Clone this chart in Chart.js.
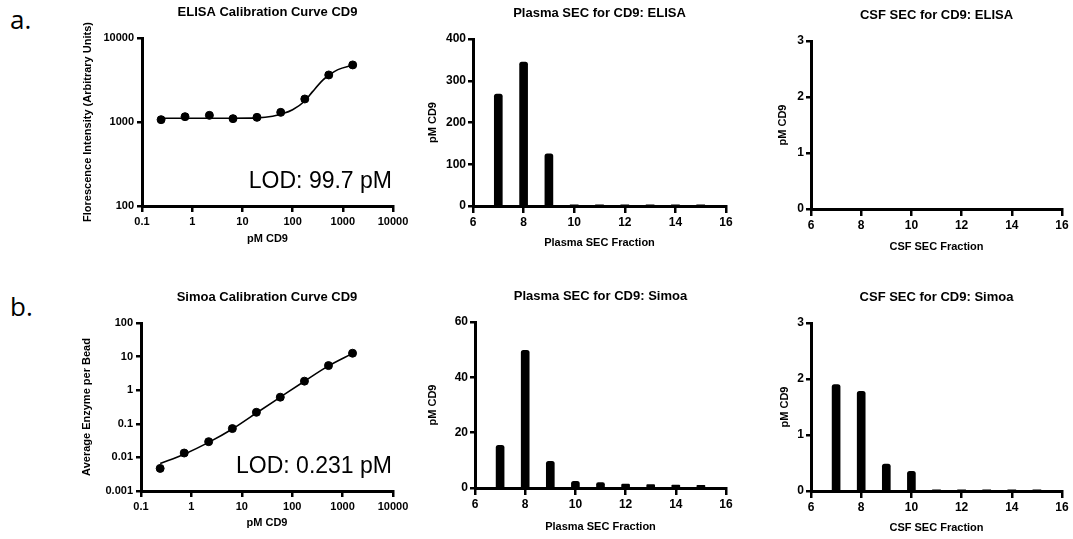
<!DOCTYPE html>
<html>
<head>
<meta charset="utf-8">
<script src="https://cdn.jsdelivr.net/npm/chart.js@4.4.1/dist/chart.umd.min.js"></script>
<style>
    html, body { margin: 0; padding: 0; background: #fff; overflow: hidden; }
    body { width: 1073px; height: 539px; position: relative; }
    .panel { position: absolute; }
    .tag { position: absolute; left: 10px; font: 26px/26px "Open Sans", sans-serif; color: #000; }
</style>
</head>
<body>
<div class="tag" style="top: 6px;">a.</div>
<div class="tag" style="top: 293px;">b.</div>

<canvas class="panel" id="elisaCal"></canvas>
<canvas class="panel" id="plasmaElisa"></canvas>
<canvas class="panel" id="csfElisa"></canvas>
<canvas class="panel" id="simoaCal"></canvas>
<canvas class="panel" id="plasmaSimoa"></canvas>
<canvas class="panel" id="csfSimoa"></canvas>

<script>
// calibration standards (3-fold dilutions), pM
const calConc = [0.24, 0.72, 2.2, 6.5, 19.5, 58, 175, 525, 1575];
const elisaSignal = [1066, 1157, 1200, 1096, 1136, 1303, 1879, 3630, 4780];
const simoaAEB = [0.0047, 0.0135, 0.0294, 0.072, 0.22, 0.62, 1.86, 5.4, 12.6];

// fitted curves
const elisaFitX = [0.24, 1, 5, 20, 40, 60, 100, 175, 250, 400, 525, 800, 1575];
const elisaFitY = [1110, 1110, 1110, 1120, 1170, 1245, 1400, 1780, 2300, 3150, 3600, 4200, 4750];
const simoaFitX = [0.24, 0.72, 2.2, 6.5, 19.5, 58, 175, 525, 1575];
const simoaFitY = [0.0066, 0.0125, 0.028, 0.07, 0.21, 0.62, 1.85, 5.3, 12.5];

// SEC fractions
const fractions = [7, 8, 9, 10, 11, 12, 13, 14, 15];
const plasmaElisaPM = [268, 345, 125, 1, 1, 1, 1, 1, 1];
const csfElisaPM = [0, 0, 0, 0, 0, 0, 0, 0, 0];
const plasmaSimoaPM = [15.4, 49.8, 9.6, 2.4, 2.0, 1.4, 1.2, 1.1, 1.0];
const csfSimoaPM = [1.90, 1.78, 0.48, 0.35, 0.01, 0.01, 0.01, 0.01, 0.01];

const concTicks = [0.1, 1, 10, 100, 1000, 10000];
const elisaTicks = [100, 1000, 10000];
const simoaTicks = [0.001, 0.01, 0.1, 1, 10, 100];

Chart.defaults.font.family = '"Liberation Sans", Arial, sans-serif';
Chart.defaults.font.size = 11;
Chart.defaults.font.weight = 'bold';
Chart.defaults.color = '#000';
Chart.defaults.animation = false;

const Y_W = 70, TITLE_H = 34, X_H = 50;

// chart area box in page pixels -> canvas placement
const place = (id, area, padRight) => {
    const el = document.getElementById(id);
    const w = Y_W + (area.right - area.left) + padRight;
    const h = TITLE_H + (area.bottom - area.top) + X_H;
    el.width = w;
    el.height = h;
    el.style.left = (area.left - Y_W) + 'px';
    el.style.top = (area.top - TITLE_H) + 'px';
    el.style.width = w + 'px';
    el.style.height = h + 'px';
    return el;
};

const pairs = (xs, ys) => xs.map((x, i) => ({ x: x, y: ys[i] }));

const axisBase = (tickLength) => ({
    border: { color: '#000', width: 3 },
    grid: { drawOnChartArea: false, color: '#000', lineWidth: 2.5, tickLength: tickLength }
});

const xAxis = (opts, title, tickLength, tickPad, titlePad) => Object.assign(axisBase(tickLength), {
    ticks: { padding: tickPad, maxRotation: 0, autoSkip: false },
    title: { display: true, text: title, padding: { top: 0, bottom: titlePad } },
    afterFit: (scale) => { scale.height = X_H; }
}, opts);

const yAxis = (opts, title, titlePad) => Object.assign(axisBase(5), {
    ticks: { padding: 1 },
    title: { display: true, text: title, padding: { top: titlePad, bottom: 0 } },
    afterFit: (scale) => { scale.width = Y_W; }
}, opts);

const logAxis = (min, max, tickVals) => ({
    type: 'logarithmic',
    min: min,
    max: max,
    afterBuildTicks: (scale) => { scale.ticks = tickVals.map(v => ({ value: v })); },
    ticks: { callback: (v) => String(v) }
});

const titleOpts = (text) => ({
    display: true,
    text: text,
    fullSize: false,
    font: { size: 13, weight: 'bold', lineHeight: 1.25 },
    padding: { top: 0, bottom: 17.75 }
});

const lodLabel = (text) => ({
    id: 'lod',
    afterDraw: function(chart) {
        const { ctx, chartArea } = chart;
        ctx.save();
        ctx.font = '23px "Liberation Sans", Arial, sans-serif';
        ctx.fillStyle = '#000';
        ctx.textAlign = 'right';
        ctx.textBaseline = 'alphabetic';
        ctx.fillText(text, chartArea.right - 1, chartArea.bottom - 18);
        ctx.restore();
    }
});

const calChart = (id, area, title, yTitle, yTitlePad, points, fit, yMin, yMax, yTicks, lod, xTitlePad) => {
    const el = place(id, area, 25);
    const xs = Object.assign({}, logAxis(0.1, 10000, concTicks));
    const ys = Object.assign({}, logAxis(yMin, yMax, yTicks));
    return new Chart(el, {
        type: 'scatter',
        data: {
            datasets: [
                {
                    data: fit,
                    showLine: true,
                    pointRadius: 0,
                    borderColor: '#000',
                    borderWidth: 1.6,
                    cubicInterpolationMode: 'monotone'
                },
                {
                    data: points,
                    pointRadius: 4,
                    backgroundColor: '#000',
                    borderColor: '#000'
                }
            ]
        },
        options: {
            responsive: false,
            layout: { padding: { top: 0, left: 0, right: 25, bottom: 0 } },
            plugins: { legend: { display: false }, tooltip: { enabled: false }, title: titleOpts(title) },
            scales: {
                x: xAxis(xs, 'pM CD9', 6, 2, xTitlePad),
                y: yAxis(ys, yTitle, yTitlePad)
            }
        },
        plugins: [lodLabel(lod)]
    });
};

const secChart = (id, area, padRight, title, xTitle, yTitlePad, xTitlePad, values, yMax, yStep) => {
    const el = place(id, area, padRight);
    return new Chart(el, {
        type: 'bar',
        data: {
            datasets: [{
                data: pairs(fractions, values),
                backgroundColor: '#000',
                barThickness: 8,
                borderRadius: 2.5,
                borderSkipped: 'bottom'
            }]
        },
        options: {
            responsive: false,
            layout: { padding: { top: 0, left: 0, right: padRight, bottom: 0 } },
            plugins: { legend: { display: false }, tooltip: { enabled: false }, title: titleOpts(title) },
            scales: {
                x: xAxis({ type: 'linear', min: 6, max: 16, offset: false,
                    grid: { offset: false, drawOnChartArea: false, color: '#000', lineWidth: 2.5, tickLength: 7 },
                    ticks: { stepSize: 2, padding: 2, maxRotation: 0, font: { size: 12 } } }, xTitle, 7, 2, xTitlePad),
                y: yAxis({ type: 'linear', min: 0, max: yMax,
                    ticks: { stepSize: yStep, padding: 2, font: { size: 12 } } }, 'pM CD9', yTitlePad)
            }
        }
    });
};

calChart('elisaCal', { left: 142, right: 393, top: 38, bottom: 206 },
    'ELISA Calibration Curve CD9', 'Florescence Intensity (Arbitrary Units)', 9.4,
    pairs(calConc, elisaSignal), pairs(elisaFitX, elisaFitY), 100, 10000, elisaTicks, 'LOD: 99.7 pM', 10.4);

calChart('simoaCal', { left: 141, right: 393, top: 323, bottom: 491 },
    'Simoa Calibration Curve CD9', 'Average Enzyme per Bead', 9.4,
    pairs(calConc, simoaAEB), pairs(simoaFitX, simoaFitY), 0.001, 100, simoaTicks, 'LOD: 0.231 pM', 11.4);

secChart('plasmaElisa', { left: 473, right: 726, top: 39, bottom: 206 }, 25,
    'Plasma SEC for CD9: ELISA', 'Plasma SEC Fraction', 23.4, 6.4, plasmaElisaPM, 400, 100);

secChart('csfElisa', { left: 811, right: 1062, top: 41, bottom: 209 }, 10,
    'CSF SEC for CD9: ELISA', 'CSF SEC Fraction', 35.4, 5.4, csfElisaPM, 3, 1);

secChart('plasmaSimoa', { left: 475, right: 726, top: 322, bottom: 488 }, 25,
    'Plasma SEC for CD9: Simoa', 'Plasma SEC Fraction', 21.4, 4.4, plasmaSimoaPM, 60, 20);

secChart('csfSimoa', { left: 811, right: 1062, top: 323, bottom: 491 }, 10,
    'CSF SEC for CD9: Simoa', 'CSF SEC Fraction', 37.4, 6.4, csfSimoaPM, 3, 1);
</script>
</body>
</html>
